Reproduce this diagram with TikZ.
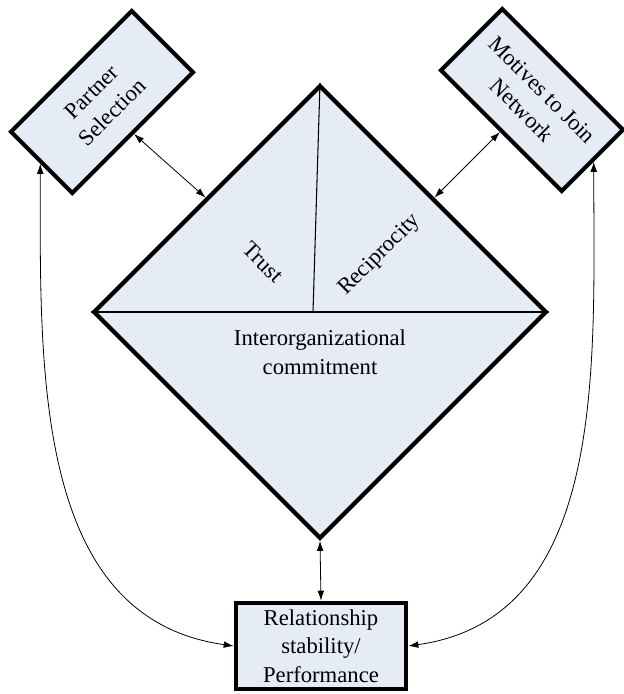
\documentclass[tikz,border=0pt]{standalone}
\usepackage{fontspec}
\setmainfont{Liberation Serif}
\usetikzlibrary{shapes.geometric,arrows.meta}
\definecolor{boxfill}{RGB}{230,236,246}

\begin{document}
\begin{tikzpicture}[x=0.75pt,y=0.75pt,
    block/.style={draw, line width=3pt, fill=boxfill, align=center, minimum width=128pt, minimum height=65pt, inner sep=1pt},
    link/.style={line width=0.6pt, {Latex[length=7.5pt,width=5pt]}-{Latex[length=7.5pt,width=5pt]}},
    font=\fontsize{17}{21.5}\selectfont]
    \useasboundingbox (0,0) rectangle (624,694);
    % Core diamond
    \node[diamond, draw, line width=3.2pt, fill=boxfill, minimum width=340pt, minimum height=340pt, inner sep=0pt] (core) at (320,382) {};
    \coordinate (split) at (313,382);
    \draw[line width=0.8pt] (core.north) -- (split); \draw[line width=0.8pt] (core.west) -- (core.east);
    \node[rotate=-45] (trust) at (263,432) {Trust};
    \node[rotate=45] (recip) at (380,439) {Reciprocity};
    \node[align=center] (commit) at (320,342) {Interorganizational\\commitment};

    % Boxes
    \node[block, rotate=45] (ps) at (102,592) {Partner\\Selection};
    \node[block, rotate=-45] (mo) at (532,594) {Motives to Join\\Network};
    \node[block] (rs) at (321,48) {Relationship\\stability/\\Performance};

    % Links
    \draw[link] (ps.south) -- (core.north west);
    \draw[link] (mo.south) -- (core.north east);
    \draw[link] (core.south) -- (rs.north);
    \draw[link] (ps.west) to[out=-90, in=172] (rs.west);
    \draw[link] (mo.east) to[out=-90, in=8] (rs.east);
\end{tikzpicture}
\end{document}
